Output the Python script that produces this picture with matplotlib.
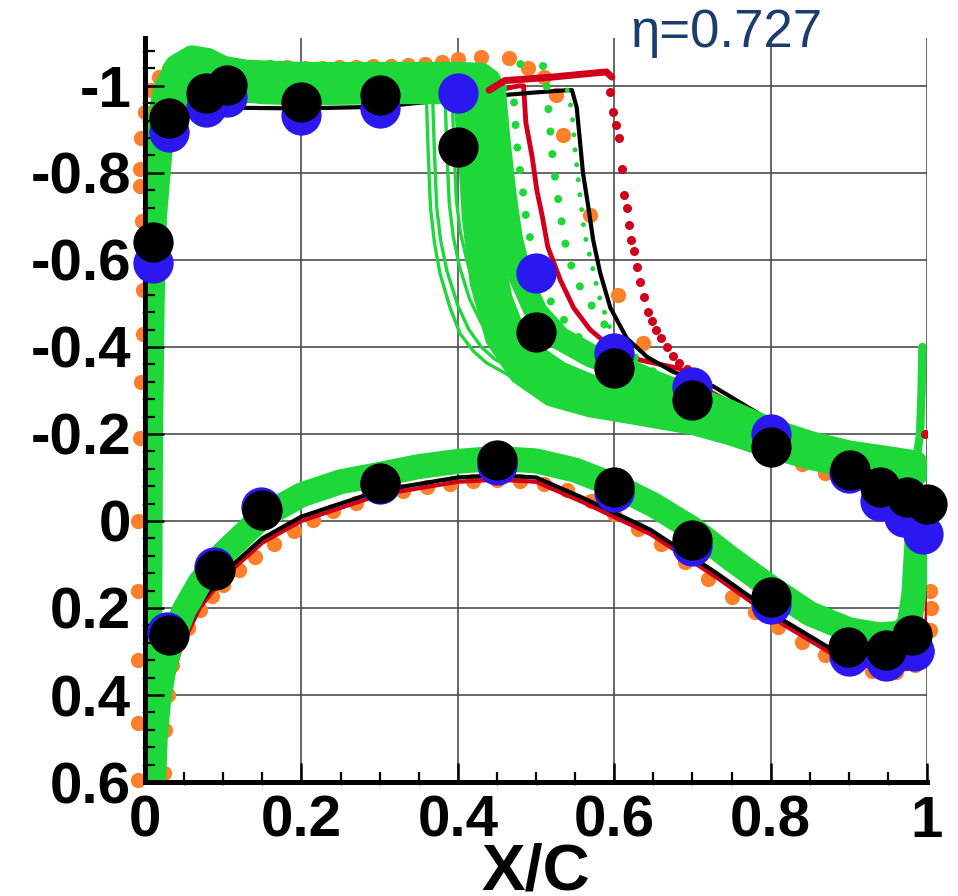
import matplotlib
matplotlib.use("Agg")
import matplotlib.pyplot as plt
from matplotlib.ticker import MultipleLocator, FuncFormatter

plt.rcParams["font.family"] = ["Liberation Sans", "DejaVu Sans"]

# ---------------- experiment 1 (black dots) ----------------
exp_blk_up_x = [0.010, 0.030, 0.078, 0.105, 0.20, 0.30, 0.40, 0.50, 0.60, 0.70, 0.80,
                0.902, 0.94, 0.974, 1.0]
exp_blk_up_cp = [-0.641, -0.926, -0.984, -1.002, -0.963, -0.979, -0.86, -0.434, -0.352,
                 -0.278, -0.17, -0.117, -0.078, -0.055, -0.04]
exp_blk_lo_x = [0.03, 0.09, 0.15, 0.30, 0.45, 0.60, 0.70, 0.80, 0.899, 0.948, 0.981]
exp_blk_lo_cp = [0.262, 0.113, -0.025, -0.087, -0.14, -0.079, 0.044, 0.174, 0.29, 0.297, 0.262]

# ---------------- experiment 2 (blue dots) ----------------
exp_blu_up_x = [0.010, 0.030, 0.078, 0.105, 0.20, 0.30, 0.40, 0.50, 0.60, 0.70, 0.80,
                0.90, 0.94, 0.97, 0.995]
exp_blu_up_cp = [-0.593, -0.894, -0.952, -0.975, -0.933, -0.949, -0.984, -0.57, -0.386,
                 -0.309, -0.20, -0.11, -0.045, -0.01, 0.03]
exp_blu_lo_x = [0.028, 0.088, 0.148, 0.30, 0.45, 0.60, 0.70, 0.80, 0.90, 0.948, 0.983]
exp_blu_lo_cp = [0.255, 0.105, -0.032, -0.085, -0.128, -0.066, 0.058, 0.19, 0.31, 0.322, 0.30]

# ---------------- orange CFD points ----------------
org_x = [-0.009, -0.009, -0.009, -0.009, -0.009, -0.007, -0.005, -0.003, -0.002, -0.004,
         -0.006, -0.007, -0.005, 0.0, 0.008, 0.018, 0.03,
         0.05, 0.072, 0.094, 0.116, 0.138, 0.16, 0.182, 0.204, 0.226, 0.248, 0.27, 0.292,
         0.314, 0.336, 0.358, 0.38, 0.40, 0.43, 0.466, 0.49, 0.51, 0.525,
         0.535, 0.569, 0.605, 0.637, 0.68, 0.72, 0.76, 0.80, 0.84, 0.87, 0.90, 0.93, 0.96, 0.99,
         0.024, 0.026, 0.029, 0.034, 0.043, 0.055, 0.07, 0.085, 0.10, 0.12, 0.14, 0.165,
         0.19, 0.215, 0.24, 0.27, 0.30, 0.33, 0.36, 0.39, 0.42, 0.45, 0.48, 0.51, 0.54,
         0.57, 0.60, 0.63, 0.66, 0.69, 0.72, 0.75, 0.78, 0.81, 0.84, 0.87, 0.90, 0.93,
         0.96, 0.985, 1.0, 1.004, 1.005, 1.004]
org_cp = [0.595, 0.465, 0.32, 0.16, 0.0, -0.19, -0.32, -0.43, -0.53, -0.69,
          -0.77, -0.81, -0.88, -0.94, -0.99, -1.02, -1.04,
          -1.047, -1.049, -1.047, -1.045, -1.044, -1.043, -1.043, -1.042, -1.042, -1.043,
          -1.044, -1.045, -1.046, -1.048, -1.051, -1.055, -1.061, -1.067, -1.064, -1.04,
          -1.02, -0.98,
          -0.887, -0.703, -0.52, -0.41, -0.3, -0.25, -0.2, -0.16, -0.13, -0.11, -0.095,
          -0.08, -0.065, -0.05,
          0.58, 0.48, 0.40, 0.33, 0.28, 0.245, 0.205, 0.172, 0.147, 0.113, 0.083, 0.053,
          0.023, -0.002, -0.022, -0.042, -0.057, -0.069, -0.078, -0.086, -0.091, -0.094,
          -0.092, -0.086, -0.071, -0.046, -0.016, 0.019, 0.054, 0.094, 0.134, 0.174,
          0.209, 0.244, 0.279, 0.309, 0.329, 0.344, 0.346, 0.33, 0.30, 0.25, 0.20, 0.16]

# ---------------- green ensemble (thick members) ----------------
grn_hi_x = [0.004, 0.004, 0.005, 0.006, 0.008, 0.011, 0.016, 0.025, 0.04, 0.06, 0.08,
            0.10, 0.13, 0.2, 0.3, 0.4, 0.43, 0.44, 0.447, 0.452, 0.46, 0.468, 0.48, 0.50,
            0.53, 0.57, 0.60, 0.65, 0.70, 0.75, 0.80, 0.85, 0.90, 0.95, 0.985]
grn_hi_cp = [0.6, 0.3, 0.0, -0.3, -0.6, -0.78, -0.9, -0.99, -1.045, -1.066, -1.06,
             -1.042, -1.033, -1.028, -1.028, -1.028, -1.026, -1.013, -0.98, -0.88, -0.75,
             -0.65, -0.56, -0.48, -0.42, -0.38, -0.36, -0.32, -0.285, -0.25, -0.21, -0.18,
             -0.158, -0.145, -0.135]
grn_mid_x = [0.005, 0.006, 0.008, 0.011, 0.016, 0.025, 0.04, 0.06, 0.10, 0.2, 0.3, 0.4,
             0.42, 0.428, 0.433, 0.438, 0.445, 0.455, 0.47, 0.49, 0.53, 0.57, 0.62, 0.70,
             0.80, 0.90, 0.985]
grn_mid_cp = [0.6, 0.0, -0.45, -0.7, -0.84, -0.94, -1.0, -1.03, -1.015, -1.005, -1.005,
              -1.005, -1.0, -0.96, -0.85, -0.72, -0.6, -0.51, -0.44, -0.39, -0.34, -0.31,
              -0.29, -0.26, -0.19, -0.14, -0.12]
grn_lo_x = [0.006, 0.007, 0.008, 0.010, 0.013, 0.02, 0.03, 0.05, 0.07, 0.10, 0.15, 0.2,
            0.3, 0.38, 0.40, 0.41, 0.415, 0.42, 0.43, 0.45, 0.48, 0.52, 0.57, 0.62, 0.70,
            0.75, 0.80, 0.85, 0.90, 0.95, 0.985]
grn_lo_cp = [0.6, 0.2, -0.2, -0.5, -0.7, -0.85, -0.93, -0.99, -1.01, -0.995, -0.985,
             -0.982, -0.985, -0.985, -0.98, -0.95, -0.85, -0.7, -0.55, -0.42, -0.34, -0.29,
             -0.265, -0.25, -0.225, -0.2, -0.17, -0.145, -0.125, -0.112, -0.105]
grn_lower_x = [0.011, 0.013, 0.017, 0.023, 0.033, 0.05, 0.07, 0.10, 0.15, 0.20, 0.25, 0.30,
               0.35, 0.40, 0.45, 0.50, 0.55, 0.60, 0.65, 0.70, 0.75, 0.80, 0.85, 0.90, 0.94,
               0.965, 0.977, 0.983, 0.986, 0.988]
grn_lower_cp = [0.6, 0.5, 0.42, 0.35, 0.28, 0.205, 0.142, 0.075, -0.01, -0.06, -0.09,
                -0.107, -0.125, -0.137, -0.144, -0.138, -0.117, -0.082, -0.037, 0.018,
                0.088, 0.153, 0.213, 0.25, 0.262, 0.258, 0.24, 0.17, 0.08, 0.02]
grn_te_x = [0.96, 0.985, 0.991, 0.993, 0.994]
grn_te_cp = [-0.115, -0.12, -0.2, -0.3, -0.4]

# thin green members
grn_t1_x = [0.30, 0.355, 0.36, 0.362, 0.365, 0.37, 0.377, 0.39, 0.403, 0.42, 0.437, 0.47,
            0.50, 0.55, 0.586, 0.65, 0.70]
grn_t1_cp = [-0.99, -0.985, -0.96, -0.85, -0.72, -0.64, -0.57, -0.49, -0.43, -0.39, -0.363,
             -0.33, -0.31, -0.29, -0.278, -0.26, -0.24]
grn_t2_x = [0.30, 0.363, 0.368, 0.370, 0.373, 0.378, 0.386, 0.40, 0.414, 0.43, 0.447,
            0.48, 0.51, 0.56, 0.59, 0.65, 0.70]
grn_t2_cp = [-0.99, -0.985, -0.96, -0.85, -0.72, -0.645, -0.575, -0.495, -0.44, -0.40,
             -0.372, -0.34, -0.318, -0.295, -0.282, -0.262, -0.242]
grn_t3_x = [0.30, 0.379, 0.384, 0.386, 0.389, 0.394, 0.402, 0.415, 0.43, 0.448, 0.465,
            0.49, 0.52, 0.56, 0.60, 0.65, 0.70]
grn_t3_cp = [-0.99, -0.985, -0.96, -0.85, -0.73, -0.655, -0.585, -0.51, -0.455, -0.41,
             -0.38, -0.35, -0.325, -0.3, -0.285, -0.265, -0.245]
grn_t4_x = [0.30, 0.388, 0.393, 0.395, 0.398, 0.403, 0.412, 0.425, 0.44, 0.46, 0.48,
            0.51, 0.54, 0.58, 0.61, 0.65, 0.70]
grn_t4_cp = [-0.99, -0.985, -0.96, -0.86, -0.74, -0.665, -0.595, -0.52, -0.465, -0.42,
             -0.39, -0.355, -0.33, -0.305, -0.29, -0.27, -0.25]

# dotted green members
grn_d1_x = [0.40, 0.468, 0.473, 0.474, 0.477, 0.482, 0.488, 0.495, 0.505, 0.52, 0.545,
            0.575, 0.61, 0.66]
grn_d1_cp = [-1.0, -0.995, -0.952, -0.9, -0.837, -0.777, -0.685, -0.63, -0.56, -0.5,
             -0.44, -0.385, -0.34, -0.3]
grn_d2_x = [0.48, 0.512, 0.515, 0.522, 0.527, 0.531, 0.535, 0.54, 0.548, 0.56, 0.573,
            0.586, 0.60, 0.63, 0.66]
grn_d2_cp = [-1.05, -1.045, -0.963, -0.82, -0.754, -0.708, -0.66, -0.616, -0.57, -0.524,
             -0.49, -0.455, -0.42, -0.37, -0.33]
grn_d3_x = [0.54, 0.546, 0.55, 0.556, 0.562, 0.57, 0.58, 0.595, 0.62]
grn_d3_cp = [-0.99, -0.94, -0.85, -0.75, -0.66, -0.6, -0.52, -0.44, -0.38]

# ---------------- red solid ----------------
red_up_x = [0.003, 0.004, 0.006, 0.01, 0.02, 0.04, 0.07, 0.10, 0.20, 0.30, 0.40, 0.45,
            0.478, 0.484, 0.487, 0.495, 0.501, 0.508, 0.515, 0.531, 0.548, 0.569, 0.595,
            0.633, 0.684, 0.72, 0.80, 0.90, 0.985]
red_up_cp = [0.6, 0.0, -0.5, -0.76, -0.89, -0.95, -0.965, -0.967, -0.965, -0.967, -0.975,
             -0.99, -1.0, -1.0, -0.915, -0.837, -0.76, -0.70, -0.63, -0.554, -0.49, -0.44,
             -0.40, -0.37, -0.35, -0.30, -0.22, -0.14, -0.10]
red_lo_x = [0.021, 0.026, 0.033, 0.046, 0.07, 0.10, 0.15, 0.20, 0.30, 0.40, 0.45, 0.50,
            0.56, 0.646, 0.731, 0.816, 0.88, 0.944, 0.975, 0.997, 1.0, 1.0]
red_lo_cp = [0.6, 0.46, 0.37, 0.29, 0.2, 0.13, 0.05, 0.0, -0.06, -0.09, -0.095, -0.09,
             -0.043, 0.03, 0.13, 0.238, 0.307, 0.346, 0.34, 0.31, 0.2, -0.05]

# ---------------- red dotted ----------------
redd_pl_x = [0.44, 0.46, 0.52, 0.56, 0.59, 0.597]
redd_pl_cp = [-0.99, -1.012, -1.02, -1.027, -1.032, -1.02]
redd_sh_x = [0.595, 0.599, 0.602, 0.606, 0.610, 0.613, 0.616, 0.619, 0.622, 0.625, 0.629,
             0.633, 0.638, 0.643, 0.648, 0.653, 0.660, 0.667, 0.675, 0.683, 0.693, 0.997]
redd_sh_cp = [-0.986, -0.94, -0.91, -0.88, -0.81, -0.75, -0.72, -0.68, -0.646, -0.62,
              -0.584, -0.55, -0.515, -0.48, -0.46, -0.44, -0.42, -0.40, -0.38, -0.363,
              -0.35, -0.2]

# ---------------- black solid ----------------
blk_up_x = [0.003, 0.004, 0.006, 0.01, 0.02, 0.04, 0.07, 0.10, 0.20, 0.30, 0.40, 0.50,
            0.54, 0.546, 0.552, 0.556, 0.56, 0.567, 0.573, 0.582, 0.595, 0.616, 0.642,
            0.675, 0.726, 0.80, 0.826, 0.90, 0.95, 0.985]
blk_up_cp = [0.6, 0.0, -0.5, -0.75, -0.88, -0.94, -0.95, -0.95, -0.948, -0.952, -0.97,
             -0.985, -0.99, -0.99, -0.95, -0.876, -0.80, -0.72, -0.646, -0.57, -0.49,
             -0.42, -0.377, -0.343, -0.31, -0.23, -0.20, -0.14, -0.11, -0.09]
blk_lo_x = [0.02, 0.025, 0.032, 0.045, 0.07, 0.10, 0.15, 0.20, 0.30, 0.40, 0.45, 0.50,
            0.56, 0.646, 0.731, 0.816, 0.88, 0.944, 0.975, 0.995]
blk_lo_cp = [0.6, 0.45, 0.36, 0.28, 0.19, 0.12, 0.04, -0.01, -0.07, -0.1, -0.105, -0.1,
             -0.053, 0.02, 0.12, 0.228, 0.297, 0.336, 0.33, 0.30]


def tick_label(v, pos):
    v = round(v, 6)
    return "0" if v == 0 else f"{v:g}"


fig = plt.figure(figsize=(9.58, 8.96), dpi=100)
pos = [0.1514, 0.1272, 0.8163, 0.8304]
ax = fig.add_axes(pos)
ax.set_xlim(0, 1)
ax.set_ylim(0.6, -1.11)
ax.xaxis.set_major_locator(MultipleLocator(0.2))
ax.yaxis.set_major_locator(MultipleLocator(0.2))
ax.grid(True, color="0.3", lw=1.2)
ax.set_axisbelow(True)
ax.tick_params(length=0, labelleft=False, labelbottom=False)
for s in ax.spines.values():
    s.set_visible(False)

GREEN = "#1ed83a"
ORANGE = "#ff7f2a"
RED = "#d0001c"
BLUE = "#2b18f0"

ax.plot(org_x, org_cp, "o", color=ORANGE, ms=11, mew=0, zorder=1.5, clip_on=False)

# CFD lines that sit partly under the green ensemble
ax.plot(red_up_x, red_up_cp, color=RED, lw=3.5, zorder=2.95)
ax.plot(red_lo_x, red_lo_cp, color=RED, lw=3, zorder=2.8)
ax.plot(blk_up_x, blk_up_cp, color="black", lw=3, zorder=2.96)
ax.plot(blk_lo_x, blk_lo_cp, color="black", lw=3, zorder=2.9)

for gx, gc in [(grn_lo_x, grn_lo_cp), (grn_mid_x, grn_mid_cp), (grn_hi_x, grn_hi_cp)]:
    ax.plot(gx, gc, color=GREEN, lw=17, solid_capstyle="round",
            solid_joinstyle="round", zorder=3)
ax.plot(grn_lower_x, grn_lower_cp, color=GREEN, lw=18, solid_capstyle="round",
        solid_joinstyle="round", zorder=3)
ax.plot(grn_te_x, grn_te_cp, color=GREEN, lw=6, solid_capstyle="round", zorder=3)
for gx, gc in [(grn_t1_x, grn_t1_cp), (grn_t2_x, grn_t2_cp),
               (grn_t3_x, grn_t3_cp), (grn_t4_x, grn_t4_cp)]:
    ax.plot(gx, gc, color=GREEN, lw=2.4, zorder=3.2)
for gx, gc, w, gap in [(grn_d1_x, grn_d1_cp, 5.8, 2.8), (grn_d2_x, grn_d2_cp, 5.8, 2.8),
                       (grn_d3_x, grn_d3_cp, 3.6, 3.0)]:
    ax.plot(gx, gc, color=GREEN, lw=w, linestyle=(0, (0.01, gap)),
            dash_capstyle="round", zorder=3.4)

ax.plot(redd_pl_x, redd_pl_cp, color=RED, lw=5, solid_capstyle="round", zorder=4)
ax.plot(redd_sh_x, redd_sh_cp, "o", color=RED, ms=6.5, mew=0, zorder=4)

# overlay axes: spines, ticks, labels and the experimental dots
ax2 = fig.add_axes(pos, sharex=ax, sharey=ax)
ax2.patch.set_visible(False)
ax2.spines["top"].set_visible(False)
ax2.spines["right"].set_visible(False)
for side in ("left", "bottom"):
    ax2.spines[side].set_linewidth(3.6)
ax2.xaxis.set_minor_locator(MultipleLocator(0.05))
ax2.yaxis.set_minor_locator(MultipleLocator(0.04))
ax2.xaxis.set_major_formatter(FuncFormatter(tick_label))
ax2.yaxis.set_major_formatter(FuncFormatter(tick_label))
ax2.tick_params(which="major", direction="in", length=14, width=1.8, labelsize=42)
ax2.tick_params(which="minor", direction="in", length=7, width=1.6)
ax2.tick_params(axis="y", which="major", pad=10)
ax2.tick_params(axis="x", which="major", pad=9)
for lab in ax2.get_xticklabels() + ax2.get_yticklabels():
    lab.set_fontweight("bold")

ax2.plot(exp_blu_up_x, exp_blu_up_cp, "o", color=BLUE, ms=29, mew=0, zorder=5, clip_on=False)
ax2.plot(exp_blu_lo_x, exp_blu_lo_cp, "o", color=BLUE, ms=29, mew=0, zorder=5, clip_on=False)
ax2.plot(exp_blk_up_x, exp_blk_up_cp, "o", color="black", ms=29, mew=0, zorder=6,
         clip_on=False)
ax2.plot(exp_blk_lo_x, exp_blk_lo_cp, "o", color="black", ms=29, mew=0, zorder=6,
         clip_on=False)

fig.text(536 / 958, 1 - 889 / 896, "X/C", ha="center", va="baseline", fontsize=47,
         fontweight="bold")
fig.text(630 / 958, 1 - 8 / 896, "\u03b7=0.727", ha="left", va="top", fontsize=38,
         color="#1b3d6d")

fig.savefig("out.png", dpi=100)
